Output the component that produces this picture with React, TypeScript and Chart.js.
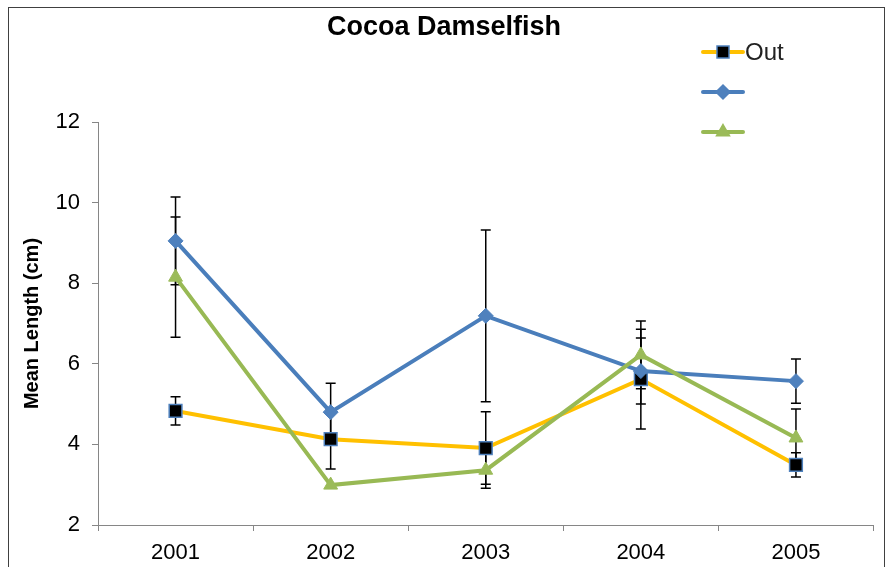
import React, { useEffect, useRef } from 'react';
import { Chart, registerables } from 'chart.js';

Chart.register(...registerables);

const years = ['2001', '2002', '2003', '2004', '2005'];
const seriesNames = ['Out', '', ''];
const outMeans = [4.83, 4.13, 3.91, 5.62, 3.49];
const outErr = [0.35, 0.74, 0.9, 1.24, 0.3];
const blueMeans = [9.05, 4.8, 7.19, 5.82, 5.57];
const blueErr = [1.09, 0.72, 2.13, 0.82, 0.55];
const greenMeans = [8.15, 2.99, 3.36, 6.22, 4.16];
const greenErr = [1.49, 0, 0.45, 0.84, 0.72];
const yMin = 2;
const yMax = 12;
const yStep = 2;

const errors = [outErr, blueErr, greenErr];
const FONT = '"Liberation Sans", Arial, sans-serif';

const errorBarsPlugin = {
  id: 'errorBars',
  beforeDatasetsDraw(chart: any) {
    const ctx = chart.ctx;
    const y = chart.scales.y;
    errors.forEach((errArr, di) => {
      const meta = chart.getDatasetMeta(di);
      meta.data.forEach((pt: any, j: number) => {
        const e = errArr[j];
        if (!e) return;
        const v = chart.data.datasets[di].data[j];
        const top = y.getPixelForValue(v + e);
        const bot = y.getPixelForValue(v - e);
        ctx.save();
        ctx.strokeStyle = '#000';
        ctx.lineWidth = 1.5;
        ctx.beginPath();
        ctx.moveTo(pt.x, top);
        ctx.lineTo(pt.x, bot);
        ctx.moveTo(pt.x - 5, top);
        ctx.lineTo(pt.x + 5, top);
        ctx.moveTo(pt.x - 5, bot);
        ctx.lineTo(pt.x + 5, bot);
        ctx.stroke();
        ctx.restore();
      });
    });
  },
};

function drawMarker(ctx: CanvasRenderingContext2D, style: string, x: number, y: number, fill: string, stroke: string) {
  ctx.save();
  ctx.fillStyle = fill;
  ctx.strokeStyle = stroke;
  ctx.lineWidth = 1.5;
  ctx.beginPath();
  if (style === 'rect') {
    const s = 6;
    ctx.rect(x - s, y - s, 2 * s, 2 * s);
  } else if (style === 'rectRot') {
    const r = 7;
    ctx.moveTo(x, y - r);
    ctx.lineTo(x + r, y);
    ctx.lineTo(x, y + r);
    ctx.lineTo(x - r, y);
    ctx.closePath();
  } else {
    const r = 7.5;
    ctx.moveTo(x, y - r);
    ctx.lineTo(x + r * 0.866, y + r / 2);
    ctx.lineTo(x - r * 0.866, y + r / 2);
    ctx.closePath();
  }
  ctx.fill();
  ctx.stroke();
  ctx.restore();
}

const legendPlugin = {
  id: 'customLegend',
  afterDraw(chart: any) {
    const ctx = chart.ctx;
    chart.data.datasets.forEach((ds: any, i: number) => {
      const y = 44 + 40 * i;
      ctx.save();
      ctx.strokeStyle = ds.borderColor;
      ctx.lineWidth = 4;
      ctx.lineCap = 'round';
      ctx.beginPath();
      ctx.moveTo(694, y);
      ctx.lineTo(734, y);
      ctx.stroke();
      ctx.restore();
      drawMarker(ctx, ds.pointStyle, 714, y, ds.pointBackgroundColor, ds.pointBorderColor);
      if (ds.label) {
        ctx.save();
        ctx.fillStyle = '#222';
        ctx.font = `24px ${FONT}`;
        ctx.textBaseline = 'middle';
        ctx.textAlign = 'left';
        ctx.fillText(ds.label, 736, y + 1);
        ctx.restore();
      }
    });
  },
};

export default function App() {
  const ref = useRef<HTMLCanvasElement>(null);

  useEffect(() => {
    if (!ref.current) return;
    const chart = new Chart(ref.current, {
      type: 'line',
      data: {
        labels: years,
        datasets: [
          {
            label: seriesNames[0],
            data: outMeans,
            borderColor: '#FFC000',
            borderWidth: 4,
            pointStyle: 'rect',
            pointRadius: 9,
            pointBackgroundColor: '#000000',
            pointBorderColor: '#4F81BD',
            pointBorderWidth: 1.5,
            order: 3,
            tension: 0,
          },
          {
            label: seriesNames[1],
            data: blueMeans,
            borderColor: '#4A7EBB',
            borderWidth: 4,
            pointStyle: 'rectRot',
            pointRadius: 7.5,
            pointBackgroundColor: '#4F81BD',
            pointBorderColor: '#4F81BD',
            pointBorderWidth: 1,
            order: 2,
            tension: 0,
          },
          {
            label: seriesNames[2],
            data: greenMeans,
            borderColor: '#98B954',
            borderWidth: 4,
            pointStyle: 'triangle',
            pointRadius: 8,
            pointBackgroundColor: '#9BBB59',
            pointBorderColor: '#9BBB59',
            pointBorderWidth: 1,
            order: 1,
            tension: 0,
          },
        ],
      },
      options: {
        responsive: false,
        animation: false,
        layout: { padding: { left: 0, right: 5, top: 0, bottom: 0 } },
        plugins: {
          legend: { display: false },
          tooltip: { enabled: false },
          title: {
            display: true,
            text: 'Cocoa Damselfish',
            color: '#000',
            font: { family: FONT, size: 27, weight: 'bold' },
            padding: { top: 3, bottom: 78.6 },
          },
        },
        scales: {
          x: {
            type: 'category',
            offset: true,
            grid: {
              offset: true,
              drawOnChartArea: false,
              drawTicks: true,
              tickLength: 6,
              color: '#868686',
            },
            border: { display: true, color: '#868686', width: 1 },
            ticks: {
              color: '#000',
              font: { family: FONT, size: 22 },
              padding: 9,
              maxRotation: 0,
            },
            afterFit: (scale: any) => {
              scale.height = 63;
            },
          },
          y: {
            min: yMin,
            max: yMax,
            grid: {
              drawOnChartArea: false,
              drawTicks: true,
              tickLength: 6,
              color: '#868686',
            },
            border: { display: true, color: '#868686', width: 1 },
            ticks: {
              stepSize: yStep,
              color: '#000',
              font: { family: FONT, size: 22 },
              padding: 12,
            },
            title: {
              display: true,
              text: 'Mean Length (cm)',
              color: '#000',
              font: { family: FONT, size: 20, weight: 'bold' },
              padding: { top: 11, bottom: 0 },
            },
            afterFit: (scale: any) => {
              scale.width = 89;
            },
          },
        },
      },
      plugins: [errorBarsPlugin, legendPlugin],
    } as any);
    return () => chart.destroy();
  }, []);

  return (
    <div
      style={{
        position: 'absolute',
        left: 8,
        top: 7,
        width: 875,
        height: 580,
        border: '1px solid #404040',
        background: '#fff',
      }}
    >
      <canvas ref={ref} width={875} height={580} style={{ display: 'block', width: 875, height: 580 }} />
    </div>
  );
}
